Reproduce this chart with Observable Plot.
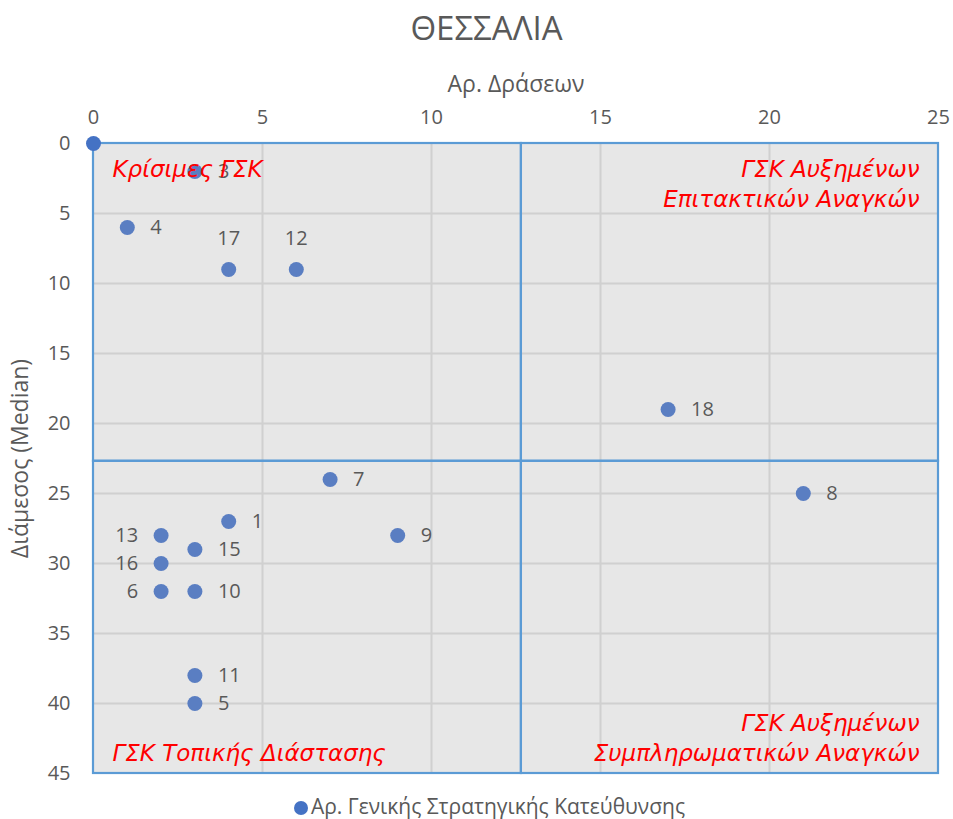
<!DOCTYPE html>
<html>
<head>
<meta charset="utf-8">
<script src="https://cdn.jsdelivr.net/npm/d3@7"></script>
<script src="https://cdn.jsdelivr.net/npm/@observablehq/plot@0.6"></script>
<style>
  body { margin: 0; background: #fff; font-family: "Open Sans", sans-serif; }
  #wrap { width: 953px; }
  #title { height: 56px; line-height: 56px; text-align: center; font-size: 33px; color: #595959; padding-left: 20px; }
  #legend { height: 26px; line-height: 26px; text-align: center; font-size: 21px; color: #595959; padding-left: 26px; white-space: nowrap; }
  #legend .sw { display: inline-block; width: 14px; height: 14px; border-radius: 50%; background: #4472C4; vertical-align: -1px; margin-right: 3px; }
  svg { display: block; }
</style>
</head>
<body>
<div id="wrap">
  <div id="title">ΘΕΣΣΑΛΙΑ</div>
  <div id="chart"></div>
  <div id="legend"><span class="sw"></span>Αρ. Γενικής Στρατηγικής Κατεύθυνσης</div>
</div>
<script>
// ---- data ----
const ids      = ["1","3","4","5","6","7","8","9","10","11","12","13","15","16","17","18"];
const actions  = [4, 3, 1, 3, 2, 7, 21, 9, 3, 3, 6, 2, 3, 2, 4, 17];
const medians  = [27, 2, 6, 40, 32, 24, 25, 28, 32, 38, 9, 28, 29, 30, 9, 19];
const labelPos = ["right","right","right","right","left","right","right","right","right","right","top","left","right","left","top","right"];
const originX = [0];
const originY = [0];
const xSplit = 12.66;
const ySplit = 22.7;
const xTicks = [0, 5, 10, 15, 20, 25];
const yTicks = [0, 5, 10, 15, 20, 25, 30, 35, 40, 45];
const quadrantTitles = {
  topLeft: "Κρίσιμες ΓΣΚ",
  topRight: "ΓΣΚ Αυξημένων\nΕπιτακτικών Αναγκών",
  bottomRight: "ΓΣΚ Αυξημένων\nΣυμπληρωματικών Αναγκών",
  bottomLeft: "ΓΣΚ Τοπικής Διάστασης"
};
const xLabel = "Αρ. Δράσεων";
const yLabel = "Διάμεσος (Median)";

// ---- tables ----
const points = ids.map((id, i) => ({id, x: actions[i], y: medians[i], pos: labelPos[i]}));
const origin = originX.map((x, i) => ({x, y: originY[i]}));
const quads = [
  {x1: 0, x2: xSplit, y1: 0, y2: ySplit},
  {x1: xSplit, x2: 25, y1: 0, y2: ySplit},
  {x1: 0, x2: xSplit, y1: ySplit, y2: 45},
  {x1: xSplit, x2: 25, y1: ySplit, y2: 45}
];
const byPos = p => points.filter(d => d.pos === p);

const labelFont = {fontSize: 20, fill: "#595959"};
const redFont = {fontSize: 23, fill: "#FF0000", fontStyle: "italic", fontFamily: "'DejaVu Sans', sans-serif", lineHeight: 1.3};

const chart = Plot.plot({
  width: 953,
  height: 737,
  marginTop: 87,
  marginBottom: 20,
  marginLeft: 93,
  marginRight: 15,
  style: {fontFamily: "'Open Sans', sans-serif", background: "#fff"},
  x: {domain: [0, 25], axis: null},
  y: {domain: [0, 45], reverse: true, axis: null},
  marks: [
    Plot.frame({fill: "#e7e7e7", stroke: "none"}),
    Plot.gridX(xTicks.filter(t => t > 0 && t < 25), {stroke: "#d0d0d0", strokeOpacity: 1, strokeWidth: 2}),
    Plot.gridY(yTicks.filter(t => t > 0 && t < 45), {stroke: "#d0d0d0", strokeOpacity: 1, strokeWidth: 2}),
    Plot.rect(quads, {x1: "x1", x2: "x2", y1: "y1", y2: "y2", fill: "none", stroke: "#5B9BD5", strokeWidth: 2.2, inset: 0}),
    Plot.axisX(xTicks, {anchor: "top", tickSize: 0, tickPadding: 20, fontSize: 20, fill: "#595959", label: null}),
    Plot.axisY(yTicks, {anchor: "left", tickSize: 0, tickPadding: 23, fontSize: 20, fill: "#595959", label: null}),
    Plot.text([xLabel], {frameAnchor: "top", dy: -68, fontSize: 23, fill: "#595959", text: d => d}),
    Plot.text([yLabel], {frameAnchor: "left", dx: -73, rotate: -90, textAnchor: "middle", fontSize: 23, fill: "#595959", text: d => d}),
    Plot.dot(points, {x: "x", y: "y", r: 7.5, fill: "#5A7EC2", stroke: "none"}),
    Plot.dot(origin, {x: "x", y: "y", r: 7.5, fill: "#4472C4", stroke: "none"}),
    Plot.text(byPos("right"), {x: "x", y: "y", text: "id", textAnchor: "start", dx: 23, ...labelFont}),
    Plot.text(byPos("left"), {x: "x", y: "y", text: "id", textAnchor: "end", dx: -23, ...labelFont}),
    Plot.text(byPos("top"), {x: "x", y: "y", text: "id", textAnchor: "middle", dy: -31, ...labelFont}),
    Plot.text([quadrantTitles.topLeft], {frameAnchor: "top-left", dx: 19, dy: 12, lineAnchor: "top", text: d => d, ...redFont}),
    Plot.text([quadrantTitles.topRight], {frameAnchor: "top-right", dx: -19, dy: 12, lineAnchor: "top", text: d => d, ...redFont}),
    Plot.text([quadrantTitles.bottomRight], {frameAnchor: "bottom-right", dx: -19, dy: -13, lineAnchor: "bottom", text: d => d, ...redFont}),
    Plot.text([quadrantTitles.bottomLeft], {frameAnchor: "bottom-left", dx: 19, dy: -13, lineAnchor: "bottom", text: d => d, ...redFont})
  ]
});
document.getElementById("chart").appendChild(chart);
</script>
</body>
</html>
